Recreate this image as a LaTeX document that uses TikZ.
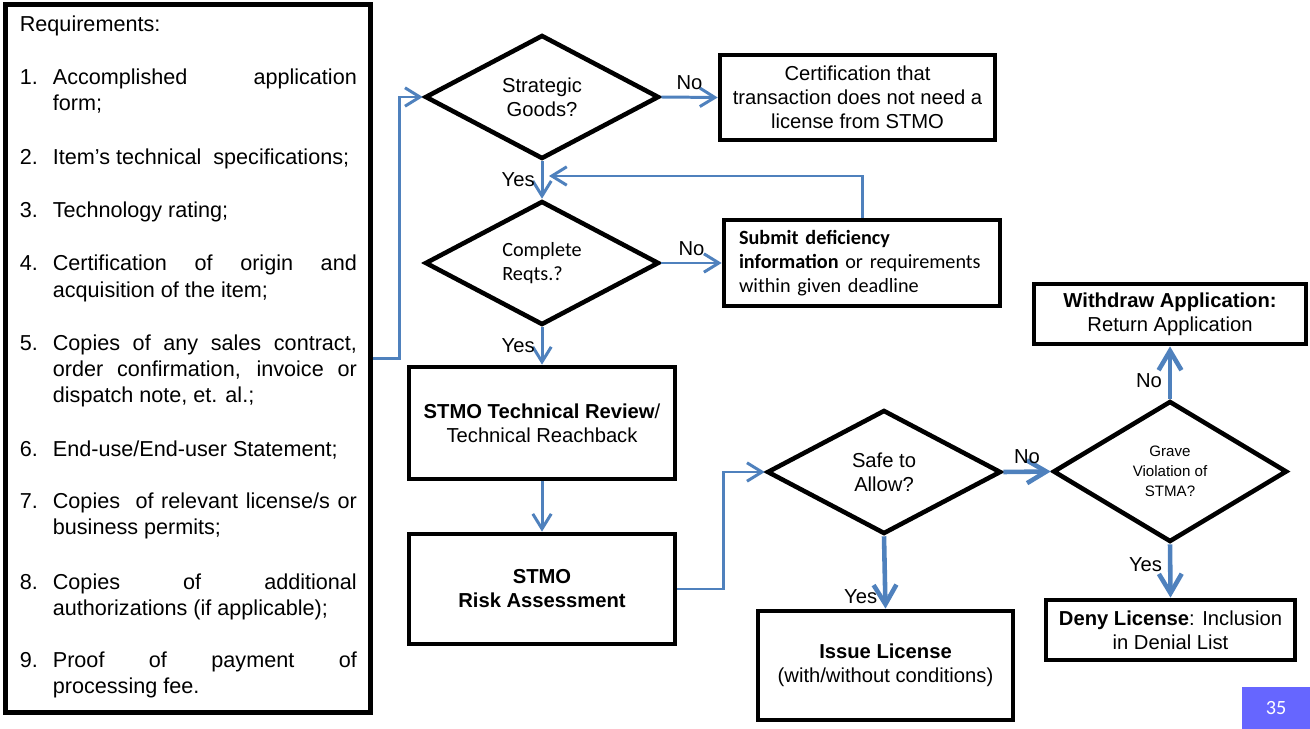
\documentclass[tikz,border=0pt]{standalone}
\usepackage{fontspec}
\setmainfont{Liberation Sans}
\newfontfamily\calibri{Carlito}
\usetikzlibrary{shapes.geometric, arrows.meta}
\definecolor{flowblue}{RGB}{79,129,189}
\definecolor{pageblue}{RGB}{102,102,255}
\newcommand{\boxfont}{\fontsize{11.5}{13.7}\selectfont}
\newcommand{\listfont}{\fontsize{12.3}{14.8}\selectfont}
\newcommand{\reqno}[2]{\hangindent=18.8pt\hangafter=1\leavevmode
\makebox[18.8pt][l]{#1.}#2\par}
\tikzstyle{reqitem} = [anchor=base west, inner sep=0pt, text width=191.8pt,
align=justify, font=\listfont]
\tikzstyle{process} = [rectangle, minimum width=5.3cm, minimum
height=2.2cm, align=center, draw=black, line width=2.7pt, font=\boxfont]
\tikzstyle{decision} = [diamond, aspect=2, minimum width=4.68cm, minimum
height=2.48cm, inner sep=1pt, align=center, draw=black, line width=2.6pt,
font=\boxfont]
\tikzstyle{answer} = [font=\boxfont, text=black]
\tikzstyle{arrow} =
[draw=flowblue, line width=1.7pt, -{Straight Barb[length=8.5pt,width=10.5pt]}]
\tikzstyle{bigarrow} =
[draw=flowblue, line width=2.6pt, -{Straight Barb[length=11pt,width=13pt]}]

\begin{document}
\begin{tikzpicture}[x=0.02cm, y=-0.02cm]
\useasboundingbox (0,0) rectangle (1310,729);

% list of requirements
\node(req)[rectangle, draw=black, line width=2.7pt, minimum width=7.3cm,
minimum height=14.16cm] at (188,358.5) {};
\node(r0)[reqitem] at (19.5,32) {Requirements:};
\node(r1)[reqitem] at (19.5,85) {\reqno{1}{Accomplished application\linebreak form;}};
\node(r2)[reqitem] at (19.5,165) {\reqno{2}{Item’s technical~ specifications;}};
\node(r3)[reqitem] at (19.5,218) {\reqno{3}{Technology rating;}};
\node(r4)[reqitem] at (19.5,271) {\reqno{4}{Certification of origin and\linebreak acquisition of the item;}};
\node(r5)[reqitem] at (19.5,350) {\reqno{5}{Copies of any sales contract,\linebreak order confirmation, invoice or\linebreak dispatch note, et. al.;}};
\node(r6)[reqitem] at (19.5,456) {\reqno{6}{End-use/End-user Statement;}};
\node(r7)[reqitem] at (19.5,508) {\reqno{7}{Copies~ of relevant license/s or\linebreak business permits;}};
\node(r8)[reqitem] at (19.5,589) {\reqno{8}{Copies of additional\linebreak authorizations (if applicable);}};
\node(r9)[reqitem] at (19.5,667) {\reqno{9}{Proof of payment of\linebreak processing fee.}};

% flow
\node(goods)[decision] at (542,97) {Strategic\\Goods?};
\node(cert)[process, minimum width=5.5cm, minimum height=1.7cm] at (857.5,97.5)
{Certification that\\transaction does not need a\\license from STMO};
\node(complete)[decision, font=\calibri\boxfont, align=left] at (542,263) {Complete\\Reqts.?};
\node(submit)[process, minimum width=5.52cm, minimum height=1.72cm,
font=\calibri\boxfont, align=left, text width=140pt] at (862,263)
{\textbf{Submit deficiency}\\\textbf{information} or requirements\\within given deadline};
\node(tech)[process, minimum width=5.32cm, minimum height=2.24cm] at (542,423)
{\textbf{STMO Technical Review}/\\Technical Reachback};
\node(risk)[process, minimum width=5.32cm, minimum height=2.2cm] at (542,589)
{\textbf{STMO}\\\textbf{Risk Assessment}};
\node(safe)[decision] at (884,472) {Safe to\\Allow?};
\node(issue)[process, minimum width=5.1cm, minimum height=2.18cm] at (885.5,665.5)
{\textbf{Issue License}\\(with/without conditions)};
\node(grave)[decision, minimum height=2.82cm, font=\fontsize{8.6}{11.4}\selectfont]
at (1170,471.5) {Grave\\Violation of\\STMA?};
\node(withdraw)[process, minimum width=5.44cm, minimum height=1.2cm] at (1170,314)
{\textbf{Withdraw Application:}\\Return Application};
\node(deny)[process, minimum width=4.98cm, minimum height=1.2cm] at (1170.5,630)
{\textbf{Deny License}: Inclusion\\in Denial List};
\node(page)[fill=pageblue, minimum width=1.36cm, minimum height=0.84cm, text=white,
font=\calibri\fontsize{11.5}{13}\selectfont, text depth=-1pt] at (1276,708) {35};

\coordinate(back) at (549,176);

\draw[arrow](req.east) -- ([xshift=0.54cm]req.east) |- (goods.west);
\draw[arrow](goods.east) -- node[answer, above]{No} (cert.west);
\draw[arrow](goods.south) -- node[answer, left]{Yes} (complete.north);
\draw[arrow](complete.east) -- node[answer, above]{No} (submit.west);
\draw[arrow](submit.north) |- (back);
\draw[arrow](complete.south) -- node[answer, left]{Yes} (tech.north);
\draw[arrow](tech.south) -- (risk.north);
\draw[arrow](risk.east) -- ([xshift=0.92cm]risk.east) |- (safe.west);
\draw[bigarrow](safe.south) -- node[answer, left, pos=0.83]{Yes} (issue.north);
\draw[bigarrow](safe.east) -- node[answer, above]{No} (grave.west);
\draw[bigarrow](grave.north) -- node[answer, left, pos=0.35]{No} (withdraw.south);
\draw[bigarrow](grave.south) -- node[answer, left, pos=0.38]{Yes} (deny.north);

\end{tikzpicture}
\end{document}
